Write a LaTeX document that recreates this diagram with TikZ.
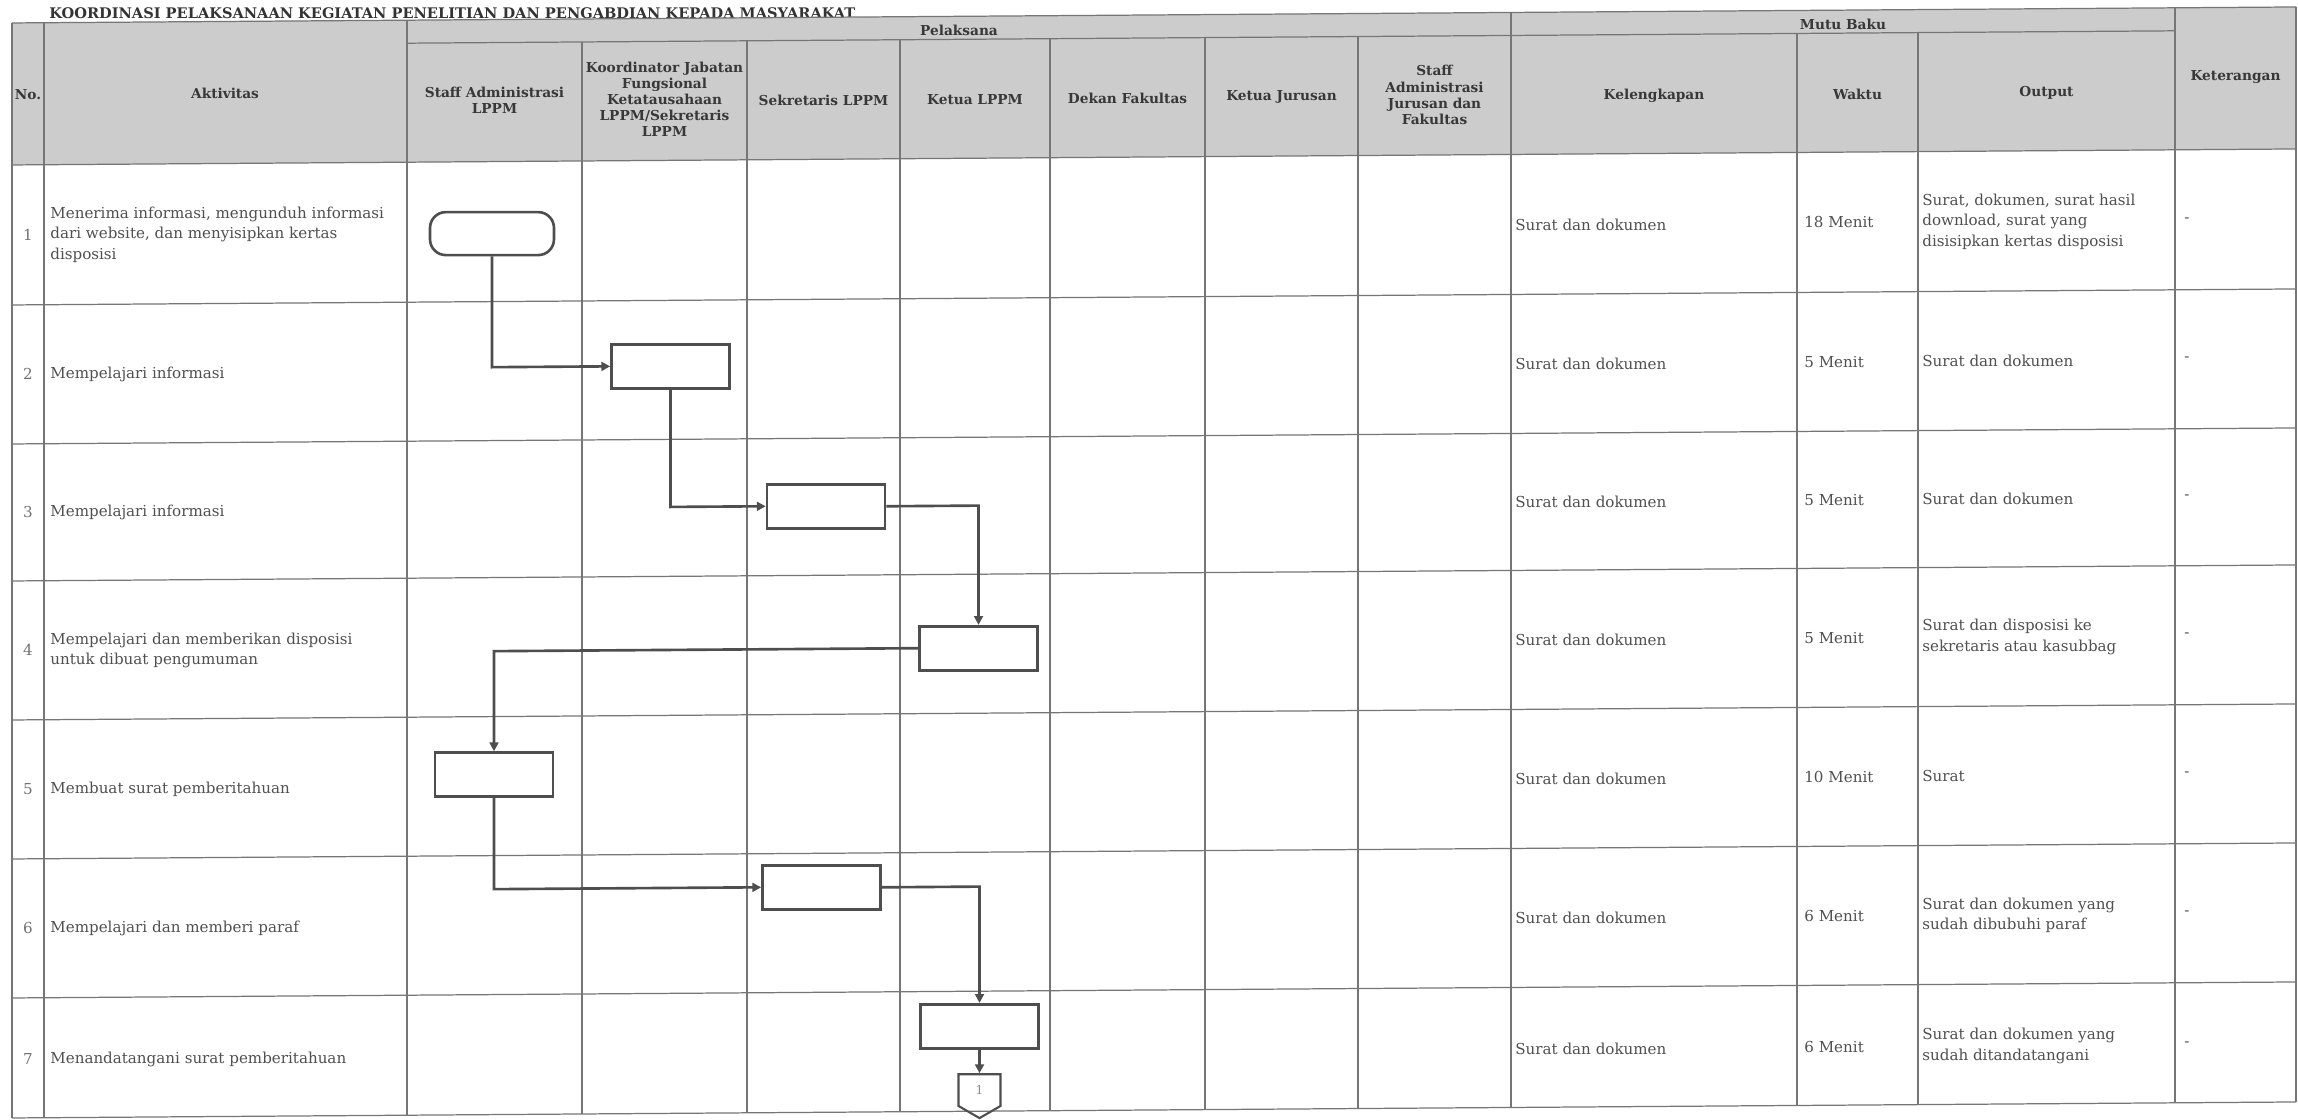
\documentclass[tikz,border=0pt]{standalone}
\usepackage{fontspec}
\setmainfont{DejaVu Serif}
\usetikzlibrary{arrows.meta,positioning,shapes.symbols}

\definecolor{hdrgray}{RGB}{204,204,204}
\definecolor{inkgray}{RGB}{78,78,78}
\definecolor{rulegray}{RGB}{118,118,118}
\definecolor{txtgray}{RGB}{80,80,80}

\begin{document}
\begin{tikzpicture}[
  x=0.02cm, y=-0.02cm,
  gridline/.style={draw=rulegray, line width=0.7pt},
  headtxt/.style={
    align=center,
    inner sep=0pt,
    text=black!78,
    font=\fontsize{7.8}{9.2}\selectfont\bfseries
  },
  bodytxt/.style={
    anchor=west,
    align=left,
    inner sep=0pt,
    text=txtgray,
    font=\fontsize{8.6}{11.6}\selectfont
  },
  procbox/.style={
    draw=inkgray,
    line width=1.5pt,
    minimum width=2.36cm,
    minimum height=0.88cm,
    inner sep=0pt
  },
  termbox/.style={procbox, rounded corners=9pt, minimum width=2.48cm, minimum height=0.86cm},
  pagecon/.style={
    draw=inkgray,
    line width=1.2pt,
    signal, signal to=south, signal from=nowhere,
    signal pointer angle=120,
    minimum width=0.84cm,
    minimum height=0.68cm,
    inner sep=0pt,
    text=black!45,
    font=\fontsize{7}{8}\selectfont
  },
  flowline/.style={draw=inkgray, line width=1.5pt, -{Triangle[length=5pt,width=5pt]}}
]
\useasboundingbox (0,0) rectangle (2298,1119);
\fill[white] (0,0) rectangle (2298,1119);

% the scanned sheet leans slightly: right side higher
\begin{scope}[cm={1,0.007,0,1,(0cm,-0.1609cm)}]

% Title
\node[anchor=base west, inner sep=0pt, text=black!80,
  font=\fontsize{8.3}{10}\selectfont\bfseries] (judul) at (49,10.5)
  {KOORDINASI PELAKSANAAN KEGIATAN PENELITIAN DAN PENGABDIAN KEPADA MASYARAKAT};

% Table grid
\fill[hdrgray] (12,15) rectangle (2296,157);
\foreach \yy in {15,157,297,436,573,712,851,990,1110}
  \draw[gridline] (12,\yy) -- (2296,\yy);
\draw[gridline] (407,38) -- (2175,38);
\foreach \xx in {12,44,407,1511,2175,2296}
  \draw[gridline] (\xx,15) -- (\xx,1110);
\foreach \xx in {582,747,900,1050,1205,1358,1797,1918}
  \draw[gridline] (\xx,38) -- (\xx,1110);

% Header
\node[headtxt] (hno) at (28,87) {No.};
\node[headtxt] (hakt) at (225,87) {Aktivitas};
\node[headtxt] (hpel) at (959,29) {Pelaksana};
\node[headtxt] (hmutu) at (1843,29) {Mutu Baku};
\node[headtxt] (hket) at (2235.5,85) {Keterangan};
\node[headtxt] (hstaf) at (494.5,96) {Staff Administrasi\\LPPM};
\node[headtxt] (hkoor) at (664.5,96) {Koordinator Jabatan\\Fungsional\\Ketatausahaan\\LPPM/Sekretaris\\LPPM};
\node[headtxt] (hsek) at (823.5,98) {Sekretaris LPPM};
\node[headtxt] (hketua) at (975,98) {Ketua LPPM};
\node[headtxt] (hdekan) at (1127.5,98) {Dekan Fakultas};
\node[headtxt] (hkjur) at (1281.5,98) {Ketua Jurusan};
\node[headtxt] (hsjur) at (1434.5,97) {Staff\\Administrasi\\Jurusan dan\\Fakultas};
\node[headtxt] (hkel) at (1654,99) {Kelengkapan};
\node[headtxt] (hwkt) at (1857.5,99) {Waktu};
\node[headtxt] (hout) at (2046.5,99) {Output};

% Rows: number, kelengkapan, waktu, keterangan
\foreach \r/\yc/\wk in {1/227/18 Menit,2/366.5/5 Menit,3/504.5/5 Menit,4/642.5/5 Menit,
                        5/781.5/10 Menit,6/920.5/6 Menit,7/1051.5/6 Menit}{
  \node[bodytxt, anchor=center, text=black!55] (no\r) at (28,\yc) {\r};
  \node[bodytxt] (kel\r) at (1515,\yc) {Surat dan dokumen};
  \node[bodytxt] (wkt\r) at (1804,\yc) {\wk};
  \node[bodytxt] (ktr\r) at (2184,\yc) {-};
}

% Aktivitas
\node[bodytxt] (akt1) at (50,227) {Menerima informasi, mengunduh informasi\\dari website, dan menyisipkan kertas\\disposisi};
\node[bodytxt] (akt2) at (50,366.5) {Mempelajari informasi};
\node[bodytxt] (akt3) at (50,504.5) {Mempelajari informasi};
\node[bodytxt] (akt4) at (50,642.5) {Mempelajari dan memberikan disposisi\\untuk dibuat pengumuman};
\node[bodytxt] (akt5) at (50,781.5) {Membuat surat pemberitahuan};
\node[bodytxt] (akt6) at (50,920.5) {Mempelajari dan memberi paraf};
\node[bodytxt] (akt7) at (50,1051.5) {Menandatangani surat pemberitahuan};

% Output
\node[bodytxt] (out1) at (1922,227) {Surat, dokumen, surat hasil\\download, surat yang\\disisipkan kertas disposisi};
\node[bodytxt] (out2) at (1922,366.5) {Surat dan dokumen};
\node[bodytxt] (out3) at (1922,504.5) {Surat dan dokumen};
\node[bodytxt] (out4) at (1922,642.5) {Surat dan disposisi ke\\sekretaris atau kasubbag};
\node[bodytxt] (out5) at (1922,781.5) {Surat};
\node[bodytxt] (out6) at (1922,920.5) {Surat dan dokumen yang\\sudah dibubuhi paraf};
\node[bodytxt] (out7) at (1922,1051.5) {Surat dan dokumen yang\\sudah ditandatangani};

% Flow symbols
\node[termbox] (mulai) at (492,229) {};
\node[procbox] (f2) at (670.5,363) {};
\node[procbox] (f3) at (826,504) {};
\node[procbox] (f4) at (978.5,647) {};
\node[procbox] (f5) at (494,770) {};
\node[procbox] (f6) at (821.5,885) {};
\node[procbox] (f7) at (979.5,1025) {};
\node[pagecon, anchor=north] (hal) at (979.5,1072) {1};

% Flow connectors
\draw[flowline] (mulai.south) |- (f2.west);
\draw[flowline] (f2.south) |- (f3.west);
\draw[flowline] (f3.east) -| (f4.north);
\draw[flowline] (f4.west) -| (f5.north);
\draw[flowline] (f5.south) |- (f6.west);
\draw[flowline] (f6.east) -| (f7.north);
\draw[flowline] (f7.south) -- (hal.north);

\end{scope}
\end{tikzpicture}
\end{document}
